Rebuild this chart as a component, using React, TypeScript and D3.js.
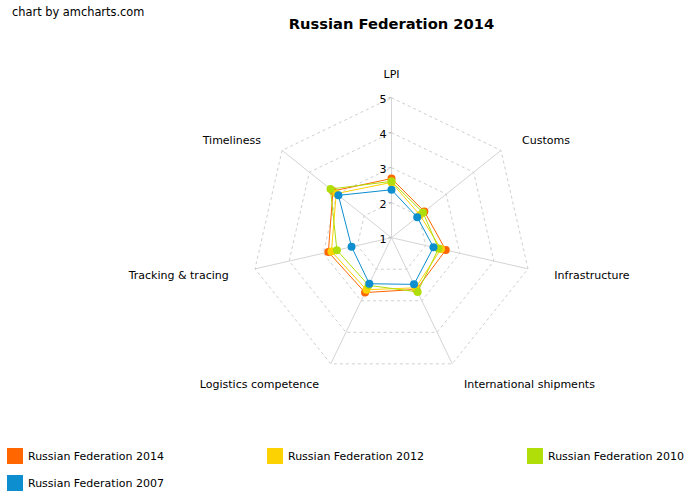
import * as d3 from "d3";
import React, { useRef, useEffect } from "react";

// radar axes and LPI scores
const axes = [
  "LPI",
  "Customs",
  "Infrastructure",
  "International shipments",
  "Logistics competence",
  "Tracking & tracing",
  "Timeliness",
];
const ticks = [1, 2, 3, 4, 5];

const rf2014 = [2.69, 2.2, 2.59, 2.64, 2.74, 2.85, 3.14];
const rf2012 = [2.58, 2.04, 2.45, 2.59, 2.65, 2.76, 3.02];
const rf2010 = [2.61, 2.15, 2.38, 2.72, 2.51, 2.6, 3.23];
const rf2007 = [2.37, 1.94, 2.23, 2.48, 2.46, 2.17, 2.94];

const seriesNames = [
  "Russian Federation 2014",
  "Russian Federation 2012",
  "Russian Federation 2010",
  "Russian Federation 2007",
];
const seriesValues = [rf2014, rf2012, rf2010, rf2007];
const colors = ["#FF6600", "#FCD202", "#B0DE09", "#0D8ECF"];

const W = 697;
const H = 499;
const FONT = "Verdana, 'DejaVu Sans', sans-serif";

const App: React.FC = () => {
  const svgRef = useRef<SVGSVGElement | null>(null);

  useEffect(() => {
    const svg = d3.select(svgRef.current).attr("width", W).attr("height", H);
    svg.selectAll("*").remove();

    const cx = 391.5;
    const cy = 237.7;
    const R = 140;
    const n = axes.length;
    const angle = (i: number) => (i * 2 * Math.PI) / n;
    const r = d3.scaleLinear().domain([1, 5]).range([0, R]);
    const pt = (i: number, rad: number): [number, number] => [
      rad * Math.sin(angle(i)),
      -rad * Math.cos(angle(i)),
    ];

    svg.append("rect").attr("width", W).attr("height", H).attr("fill", "#fff");

    svg.append("text")
      .attr("x", 12).attr("y", 16)
      .attr("font-family", FONT).attr("font-size", 11.4)
      .attr("fill", "#000")
      .text("chart by amcharts.com");

    svg.append("text")
      .attr("x", cx).attr("y", 29)
      .attr("text-anchor", "middle")
      .attr("font-family", FONT).attr("font-size", 14.7)
      .attr("font-weight", "bold")
      .text("Russian Federation 2014");

    const g = svg.append("g").attr("transform", `translate(${cx},${cy})`);

    // dashed rings
    ticks.slice(1).forEach((t) => {
      const pts = d3.range(n).map((i) => pt(i, r(t)));
      g.append("path")
        .attr("d", d3.line().curve(d3.curveLinearClosed)(pts))
        .attr("fill", "none")
        .attr("stroke", "#cfcfcf")
        .attr("stroke-dasharray", "3,3");
    });

    // spokes
    d3.range(n).forEach((i) => {
      const [x, y] = pt(i, R);
      g.append("line")
        .attr("x1", 0).attr("y1", 0).attr("x2", x).attr("y2", y)
        .attr("stroke", "#d4d4d4");
    });

    // value axis ticks and labels
    ticks.forEach((t) => {
      g.append("line")
        .attr("x1", -3).attr("x2", 0)
        .attr("y1", -r(t)).attr("y2", -r(t))
        .attr("stroke", "#bbb");
      g.append("text")
        .attr("x", -5).attr("y", -r(t) + 5)
        .attr("text-anchor", "end")
        .attr("font-family", FONT).attr("font-size", 11)
        .text(t);
    });

    // category labels
    axes.forEach((a, i) => {
      const x = 167 * Math.sin(angle(i));
      const anchor = Math.abs(x) < 5 ? "middle" : x > 0 ? "start" : "end";
      const yc = anchor === "middle" ? -163.7 : -160 * Math.cos(angle(i)) + 2;
      g.append("text")
        .attr("x", x).attr("y", yc + 4)
        .attr("text-anchor", anchor)
        .attr("font-family", FONT).attr("font-size", 11)
        .text(a);
    });

    // series
    const radial = d3.lineRadial<number>()
      .angle((_, i) => angle(i))
      .radius((d) => r(d))
      .curve(d3.curveLinearClosed);

    seriesValues.forEach((vals, s) => {
      g.append("path")
        .attr("d", radial(vals))
        .attr("fill", "none")
        .attr("stroke", colors[s])
        .attr("stroke-width", 1);
      vals.forEach((v, i) => {
        const [x, y] = pt(i, r(v));
        g.append("circle")
          .attr("cx", x).attr("cy", y).attr("r", 4)
          .attr("fill", colors[s]);
      });
    });

    // legend
    seriesNames.forEach((name, s) => {
      const col = s % 3;
      const row = Math.floor(s / 3);
      const lx = 7 + col * 260;
      const ly = 448 + row * 27;
      svg.append("rect")
        .attr("x", lx).attr("y", ly).attr("width", 16).attr("height", 16)
        .attr("fill", colors[s]);
      svg.append("text")
        .attr("x", lx + 21).attr("y", ly + 12)
        .attr("font-family", FONT).attr("font-size", 11)
        .text(name);
    });
  }, []);

  return (
    <svg ref={svgRef} style={{ position: "absolute", left: 0, top: 0 }}></svg>
  );
};

export default App;
